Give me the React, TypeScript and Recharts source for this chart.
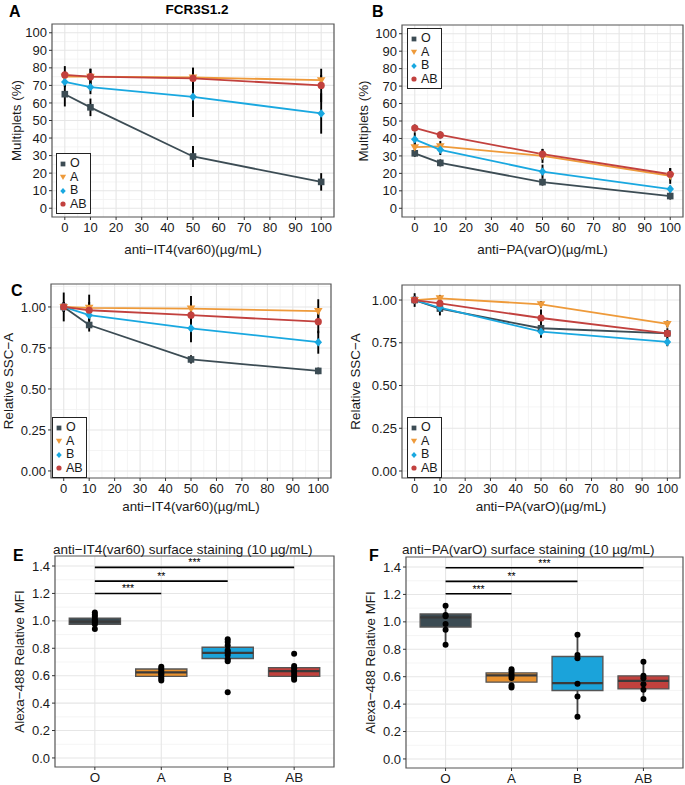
import React from 'react';
import {
  ComposedChart,
  Line,
  XAxis,
  YAxis,
  ErrorBar,
  CartesianGrid,
  ReferenceArea,
  ReferenceLine,
  Scatter,
  Legend,
  Label,
} from 'recharts';

const FONT = '"Liberation Sans", Arial, Helvetica, sans-serif';
const TEXT = '#1a1a1a';

// ---------- shared categories ----------
const groups = ['O', 'A', 'B', 'AB'];
const groupColors = ['#3C4C54', '#EE9A3A', '#19A8E0', '#C2413E'];
const boxColors = ['#3B4B53', '#E8912E', '#1BA3DA', '#C1413D'];
const shapes = ['square', 'tri', 'diamond', 'circle'];

const doses = [0, 10, 50, 100];
const doseTicks = [0, 10, 20, 30, 40, 50, 60, 70, 80, 90, 100];
const doseMinor = [5, 15, 25, 35, 45, 55, 65, 75, 85, 95];

// ---------- Panel A: Multiplets, anti-IT4(var60) ----------
const aO = [65, 57.5, 29.5, 15];
const aA = [75, 75, 74.5, 73];
const aB = [72, 69, 63.5, 54];
const aAB = [76, 75, 74, 70];
const aOe = [7, 5, 6, 5];
const aAe = [3, 4.5, 5.5, 3];
const aBe = [3, 4, 11.5, 11.5];
const aABe = [5, 4.5, 6, 9.5];

// ---------- Panel B: Multiplets, anti-PA(varO) ----------
const bO = [31.5, 26, 15, 7];
const bA = [35, 35.5, 30, 18.5];
const bB = [39.5, 33.5, 21, 11];
const bAB = [46, 42, 31, 19.5];
const bOe = [2, 2, 2, 2];
const bAe = [3, 3, 4, 4.5];
const bBe = [4, 3, 4, 2];
const bABe = [2, 2, 3, 3.5];

// ---------- Panel C: Relative SSC-A, anti-IT4(var60) ----------
const cO = [1.0, 0.89, 0.68, 0.61];
const cA = [1.0, 0.995, 0.99, 0.975];
const cB = [1.0, 0.95, 0.87, 0.785];
const cAB = [1.0, 0.98, 0.95, 0.91];
const cOe = [0.088, 0.04, 0.025, 0.02];
const cAe = [0.03, 0.08, 0.077, 0.072];
const cBe = [0.03, 0.03, 0.085, 0.07];
const cABe = [0.03, 0.05, 0.05, 0.07];

// ---------- Panel D: Relative SSC-A, anti-PA(varO) ----------
const dO = [1.0, 0.95, 0.835, 0.805];
const dA = [1.0, 1.01, 0.975, 0.86];
const dB = [1.0, 0.955, 0.815, 0.755];
const dAB = [1.0, 0.98, 0.895, 0.805];
const dOe = [0.04, 0.04, 0.02, 0.03];
const dAe = [0.02, 0.02, 0.02, 0.02];
const dBe = [0.02, 0.02, 0.035, 0.025];
const dABe = [0.02, 0.02, 0.05, 0.02];

// ---------- Panel E: anti-IT4(var60) surface staining ----------
const eQ1 = [0.975, 0.595, 0.725, 0.595];
const eMed = [0.995, 0.624, 0.766, 0.634];
const eQ3 = [1.02, 0.649, 0.807, 0.659];
const eLo = [0.94, 0.565, 0.705, 0.57];
const eHi = [1.06, 0.665, 0.865, 0.67];
const ePtsO = [1.06, 1.045, 1.03, 1.01, 1.0, 0.99, 0.975, 0.94];
const ePtsA = [0.665, 0.65, 0.635, 0.62, 0.61, 0.595, 0.58, 0.565];
const ePtsB = [0.865, 0.845, 0.82, 0.785, 0.77, 0.75, 0.72, 0.705, 0.48];
const ePtsAB = [0.76, 0.67, 0.655, 0.635, 0.62, 0.6, 0.585, 0.57];
const eSigY = [1.2, 1.29, 1.39];

// ---------- Panel F: anti-PA(varO) surface staining ----------
const fQ1 = [0.962, 0.56, 0.499, 0.511];
const fMed = [1.032, 0.609, 0.553, 0.57];
const fQ3 = [1.057, 0.628, 0.747, 0.606];
const fLo = [0.833, 0.522, 0.307, 0.438];
const fHi = [1.117, 0.655, 0.906, 0.709];
const fPtsO = [1.117, 1.05, 1.04, 0.984, 0.942, 0.833];
const fPtsA = [0.655, 0.64, 0.62, 0.605, 0.59, 0.535, 0.522];
const fPtsB = [0.906, 0.758, 0.735, 0.548, 0.455, 0.307];
const fPtsAB = [0.709, 0.606, 0.589, 0.545, 0.504, 0.438];
const fSigY = [1.205, 1.295, 1.395];

const sigLabels = ['***', '**', '***'];
const boxTicks = [0, 0.2, 0.4, 0.6, 0.8, 1.0, 1.2, 1.4];
const boxMinor = [0.1, 0.3, 0.5, 0.7, 0.9, 1.1, 1.3];

function buildRows(vals: number[][], errs: number[][]) {
  return doses.map((d, i) => {
    const row: any = { dose: d };
    groups.forEach((g, k) => {
      row[g] = vals[k][i];
      row[g + '_e'] = errs[k][i];
    });
    return row;
  });
}

function Marker({ shape, cx, cy, color, s = 1 }: any) {
  if (cx == null || cy == null) return null;
  if (shape === 'square')
    return <rect x={cx - 3.3 * s} y={cy - 3.3 * s} width={6.6 * s} height={6.6 * s} fill={color} />;
  if (shape === 'tri')
    return (
      <path
        d={`M${cx - 4.3 * s},${cy - 3 * s} L${cx + 4.3 * s},${cy - 3 * s} L${cx},${cy + 4.2 * s} Z`}
        fill={color}
      />
    );
  if (shape === 'diamond')
    return (
      <path
        d={`M${cx},${cy - 4.2 * s} L${cx + 3.8 * s},${cy} L${cx},${cy + 4.2 * s} L${cx - 3.8 * s},${cy} Z`}
        fill={color}
      />
    );
  return <circle cx={cx} cy={cy} r={3.6 * s} fill={color} />;
}

function LegendBox() {
  return (
    <div
      style={{
        border: '1px solid #222',
        background: '#fff',
        padding: '3px 3px 2px 1px',
        fontFamily: FONT,
        fontSize: 12.5,
        lineHeight: '13.5px',
        color: TEXT,
      }}
    >
      {groups.map((g, k) => (
        <div key={g} style={{ display: 'flex', alignItems: 'center', height: 13.5 }}>
          <svg width={10} height={10} style={{ marginRight: 2, display: 'block' }}>
            <Marker shape={shapes[k]} cx={5} cy={5} color={groupColors[k]} s={0.72} />
          </svg>
          <span>{g}</span>
        </div>
      ))}
    </div>
  );
}

const tickStyle = { fontSize: 13, fill: TEXT, fontFamily: FONT };
const titleStyle = { fontSize: 13.4, fill: TEXT, fontFamily: FONT };

function LinePanel(p: any) {
  const rows = buildRows(p.vals, p.errs);
  const [y0, y1] = p.yDomain;
  return (
    <div style={{ position: 'absolute', left: p.left, top: p.top }}>
      <ComposedChart width={p.width} height={p.height} data={rows} margin={p.margin}>
        <CartesianGrid horizontalValues={p.yMinor} verticalValues={doseMinor} stroke="#F1F1F1" strokeWidth={0.8} />
        <CartesianGrid horizontalValues={p.yTicks} verticalValues={doseTicks} stroke="#E6E6E6" strokeWidth={1.1} />
        <XAxis
          dataKey="dose"
          type="number"
          domain={[-5, 105]}
          ticks={doseTicks}
          allowDataOverflow
          interval={0}
          height={p.xHeight}
          tickSize={3}
          tickMargin={3}
          axisLine={false}
          tickLine={{ stroke: '#333' }}
          tick={tickStyle}
        >
          <Label value={p.xTitle} position="insideBottom" offset={p.xTitleOffset} style={titleStyle} />
        </XAxis>
        <YAxis
          type="number"
          domain={p.yDomain}
          ticks={p.yTicks}
          allowDataOverflow
          interval={0}
          width={p.yWidth}
          tickSize={3}
          tickMargin={2}
          axisLine={false}
          tickLine={{ stroke: '#333' }}
          tick={tickStyle}
          tickFormatter={p.yFmt}
        >
          <Label
            value={p.yTitle}
            angle={-90}
            position="insideLeft"
            offset={p.yTitleOffset}
            style={{ ...titleStyle, textAnchor: 'middle' }}
          />
        </YAxis>
        <ReferenceArea x1={-5} x2={105} y1={y0} y2={y1} fill="none" stroke="#555" strokeWidth={1.2} ifOverflow="visible" />
        {groups.map((g, k) => (
          <Line
            key={g}
            dataKey={g}
            name={g}
            type="linear"
            stroke={groupColors[k]}
            strokeWidth={1.8}
            isAnimationActive={false}
            activeDot={false}
            dot={(d: any) => (
              <Marker key={`${g}-${d.index}`} shape={shapes[k]} cx={d.cx} cy={d.cy} color={groupColors[k]} />
            )}
          >
            <ErrorBar dataKey={g + '_e'} width={0} stroke="#000" strokeWidth={1.9} direction="y" />
          </Line>
        ))}
        <Legend
          layout="vertical"
          align="center"
          verticalAlign="middle"
          wrapperStyle={{ left: p.legend.left, top: p.legend.top, width: 'auto', height: 'auto' }}
          content={() => <LegendBox />}
        />
      </ComposedChart>
    </div>
  );
}

function BoxPanel(p: any) {
  const pts: any[] = [];
  p.points.forEach((arr: number[], k: number) => arr.forEach((v) => pts.push({ x: k + 1, y: v })));
  const half = 0.385;
  return (
    <div style={{ position: 'absolute', left: p.left, top: p.top }}>
      <ComposedChart width={p.width} height={p.height} margin={p.margin}>
        <CartesianGrid horizontalValues={boxMinor} vertical={false} stroke="#F1F1F1" strokeWidth={0.8} />
        <CartesianGrid horizontalValues={boxTicks} verticalValues={[1, 2, 3, 4]} stroke="#E6E6E6" strokeWidth={1.1} />
        <XAxis
          dataKey="x"
          type="number"
          domain={[0.4, 4.6]}
          ticks={[1, 2, 3, 4]}
          allowDataOverflow
          interval={0}
          height={p.xHeight}
          tickSize={3}
          tickMargin={2}
          axisLine={false}
          tickLine={{ stroke: '#333' }}
          tick={{ ...tickStyle, fontSize: 13.4 }}
          tickFormatter={(v: number) => groups[v - 1]}
        />
        <YAxis
          dataKey="y"
          type="number"
          domain={[-0.066, 1.473]}
          ticks={boxTicks}
          allowDataOverflow
          interval={0}
          width={p.yWidth}
          tickSize={3}
          tickMargin={2}
          axisLine={false}
          tickLine={{ stroke: '#333' }}
          tick={tickStyle}
          tickFormatter={(v: number) => v.toFixed(1)}
        >
          <Label
            value="Alexa−488 Relative MFI"
            angle={-90}
            position="insideLeft"
            offset={p.yTitleOffset}
            style={{ ...titleStyle, textAnchor: 'middle' }}
          />
        </YAxis>
        <ReferenceArea x1={0.4} x2={4.6} y1={-0.066} y2={1.473} fill="none" stroke="#555" strokeWidth={1.2} ifOverflow="visible" />
        {groups.map((g, k) => (
          <ReferenceLine
            key={'wl' + g}
            segment={[
              { x: k + 1, y: p.lo[k] },
              { x: k + 1, y: p.q1[k] },
            ]}
            stroke="#444"
            strokeWidth={1.8}
          />
        ))}
        {groups.map((g, k) => (
          <ReferenceLine
            key={'wh' + g}
            segment={[
              { x: k + 1, y: p.q3[k] },
              { x: k + 1, y: p.hi[k] },
            ]}
            stroke="#444"
            strokeWidth={1.8}
          />
        ))}
        {groups.map((g, k) => (
          <ReferenceArea
            key={'box' + g}
            x1={k + 1 - half}
            x2={k + 1 + half}
            y1={p.q1[k]}
            y2={p.q3[k]}
            fill={boxColors[k]}
            fillOpacity={1}
            stroke="#555"
            strokeWidth={1.4}
            ifOverflow="visible"
          />
        ))}
        {groups.map((g, k) => (
          <ReferenceLine
            key={'med' + g}
            segment={[
              { x: k + 1 - half, y: p.med[k] },
              { x: k + 1 + half, y: p.med[k] },
            ]}
            stroke="#3a3a3a"
            strokeWidth={2.2}
          />
        ))}
        {p.sigY.map((h: number, i: number) => (
          <ReferenceLine
            key={'sig' + i}
            segment={[
              { x: 1, y: h },
              { x: i + 2, y: h },
            ]}
            stroke="#000"
            strokeWidth={1.6}
            label={{ value: sigLabels[i], position: 'top', offset: 1, fontSize: 10.5, fill: '#000', fontFamily: FONT }}
          />
        ))}
        <Scatter
          data={pts}
          dataKey="y"
          fill="#000"
          isAnimationActive={false}
          shape={(d: any) => <circle cx={d.cx} cy={d.cy} r={3} fill="#000" />}
        />
      </ComposedChart>
    </div>
  );
}

const multTicks = [0, 10, 20, 30, 40, 50, 60, 70, 80, 90, 100];
const multMinor = [5, 15, 25, 35, 45, 55, 65, 75, 85, 95];
const sscTicks = [0, 0.25, 0.5, 0.75, 1.0];

export default function App() {
  return (
    <div
      style={{
        position: 'absolute',
        left: 0,
        top: 0,
        width: 685,
        height: 785,
        background: '#fff',
        overflow: 'hidden',
        fontFamily: FONT,
      }}
    >
      <LinePanel
        left={0}
        top={0}
        width={340}
        height={265}
        margin={{ top: 24, right: 6, bottom: 0, left: 0 }}
        yWidth={52}
        xHeight={48}
        yDomain={[-5, 105]}
        yTicks={multTicks}
        yMinor={multMinor}
        yFmt={(v: number) => String(v)}
        vals={[aO, aA, aB, aAB]}
        errs={[aOe, aAe, aBe, aABe]}
        xTitle="anti−IT4(var60)(µg/mL)"
        yTitle="Multiplets (%)"
        xTitleOffset={11}
        yTitleOffset={16}
        legend={{ left: 56, top: 153 }}
      />
      <LinePanel
        left={340}
        top={0}
        width={345}
        height={265}
        margin={{ top: 25, right: 2, bottom: 0, left: 0 }}
        yWidth={62}
        xHeight={48}
        yDomain={[-5, 105]}
        yTicks={multTicks}
        yMinor={multMinor}
        yFmt={(v: number) => String(v)}
        vals={[bO, bA, bB, bAB]}
        errs={[bOe, bAe, bBe, bABe]}
        xTitle="anti−PA(varO)(µg/mL)"
        yTitle="Multiplets (%)"
        xTitleOffset={11}
        yTitleOffset={23}
        legend={{ left: 67, top: 28 }}
      />
      <LinePanel
        left={0}
        top={270}
        width={340}
        height={248}
        margin={{ top: 14, right: 9, bottom: 0, left: 0 }}
        yWidth={51}
        xHeight={40}
        yDomain={[-0.043, 1.14]}
        yTicks={sscTicks}
        yMinor={[0.125, 0.375, 0.625, 0.875, 1.125]}
        yFmt={(v: number) => v.toFixed(2)}
        vals={[cO, cA, cB, cAB]}
        errs={[cOe, cAe, cBe, cABe]}
        xTitle="anti−IT4(var60)(µg/mL)"
        yTitle="Relative SSC−A"
        xTitleOffset={7}
        yTitleOffset={8}
        legend={{ left: 52, top: 147 }}
      />
      <LinePanel
        left={340}
        top={270}
        width={345}
        height={248}
        margin={{ top: 15, right: 5, bottom: 0, left: 0 }}
        yWidth={62}
        xHeight={40}
        yDomain={[-0.041, 1.088]}
        yTicks={sscTicks}
        yMinor={[0.125, 0.375, 0.625, 0.875]}
        yFmt={(v: number) => v.toFixed(2)}
        vals={[dO, dA, dB, dAB]}
        errs={[dOe, dAe, dBe, dABe]}
        xTitle="anti−PA(varO)(µg/mL)"
        yTitle="Relative SSC−A"
        xTitleOffset={7}
        yTitleOffset={15}
        legend={{ left: 67, top: 147 }}
      />
      <BoxPanel
        left={0}
        top={530}
        width={340}
        height={255}
        margin={{ top: 26, right: 6, bottom: 0, left: 0 }}
        yWidth={55}
        xHeight={18}
        yTitleOffset={19}
        q1={eQ1}
        med={eMed}
        q3={eQ3}
        lo={eLo}
        hi={eHi}
        points={[ePtsO, ePtsA, ePtsB, ePtsAB]}
        sigY={eSigY}
      />
      <BoxPanel
        left={340}
        top={530}
        width={345}
        height={255}
        margin={{ top: 27, right: 2, bottom: 0, left: 0 }}
        yWidth={66}
        xHeight={17}
        yTitleOffset={30}
        q1={fQ1}
        med={fMed}
        q3={fQ3}
        lo={fLo}
        hi={fHi}
        points={[fPtsO, fPtsA, fPtsB, fPtsAB]}
        sigY={fSigY}
      />
      <svg
        width={685}
        height={785}
        style={{ position: 'absolute', left: 0, top: 0, pointerEvents: 'none' }}
      >
        <g fontFamily={FONT} fill="#000">
          <text x={197} y={14} textAnchor="middle" fontSize={13.5} fontWeight="bold">FCR3S1.2</text>
          <text x={9} y={17} fontSize={16} fontWeight="bold">A</text>
          <text x={372} y={17} fontSize={16} fontWeight="bold">B</text>
          <text x={11} y={296} fontSize={16} fontWeight="bold">C</text>
          <text x={13} y={561} fontSize={16} fontWeight="bold">E</text>
          <text x={369} y={561} fontSize={16} fontWeight="bold">F</text>
          <text x={53} y={553.5} fontSize={13.5} fill={TEXT}>anti−IT4(var60) surface staining (10 µg/mL)</text>
          <text x={402} y={553.5} fontSize={13.5} fill={TEXT}>anti−PA(varO) surface staining (10 µg/mL)</text>
        </g>
      </svg>
    </div>
  );
}
